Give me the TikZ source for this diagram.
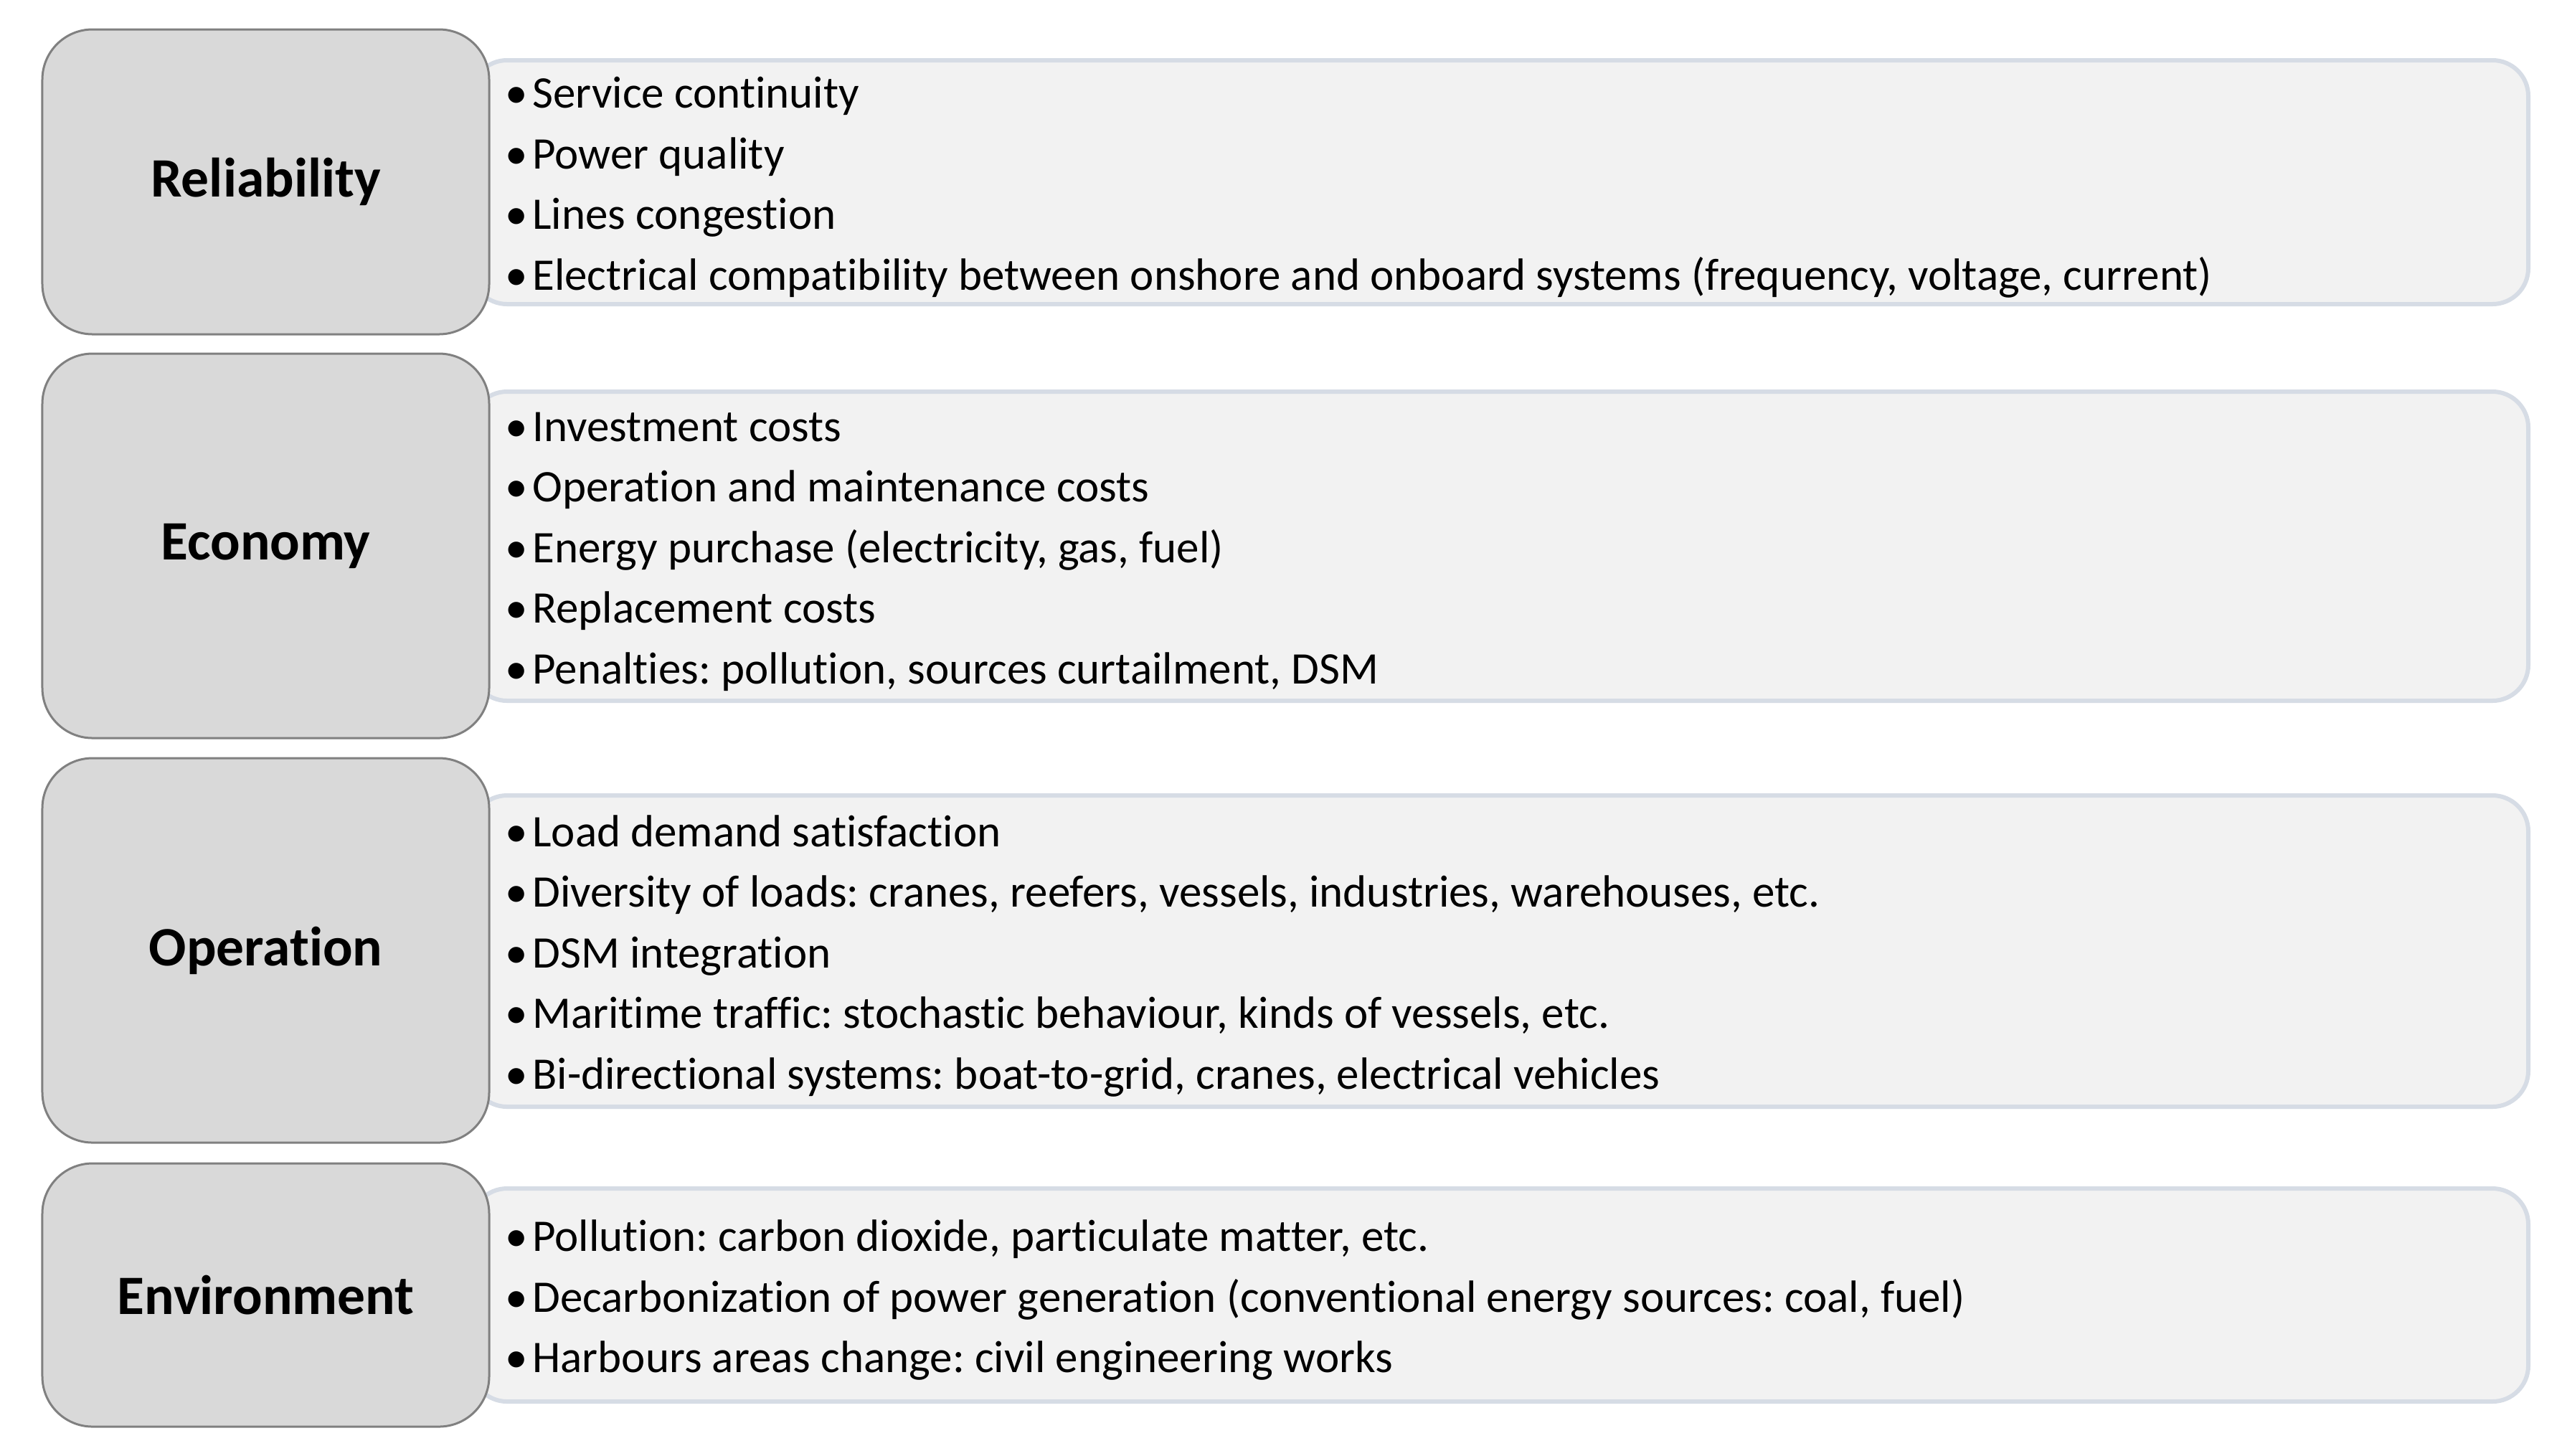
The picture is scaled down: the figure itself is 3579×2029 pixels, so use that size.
\documentclass[tikz,border=0pt]{standalone}
\usepackage{fontspec}
\setmainfont{Carlito}[Ligatures=NoCommon]
\usepackage{tikz}

\definecolor{catfill}{RGB}{217,217,217}
\definecolor{catline}{RGB}{128,128,128}
\definecolor{listfill}{RGB}{242,242,242}
\definecolor{listline}{RGB}{214,220,229}

\newcommand{\bul}{\textbullet\hspace{1.4pt}}
\frenchspacing

\tikzset{
	catbox/.style={draw=catline,line width=0.6pt,fill=catfill,rounded corners=14pt,minimum width=124.6pt,inner sep=0pt,font=\fontsize{15.5}{18}\selectfont\bfseries},
	listbox/.style={draw=listline,line width=1.2pt,fill=listfill,rounded corners=10pt,minimum width=573.6pt,inner sep=0pt,anchor=east},
	listtext/.style={anchor=west,align=left,inner sep=0pt,font=\fontsize{12.6}{16.9}\selectfont}
}

\begin{document}
\begin{tikzpicture}[x=0.2pt,y=-0.2pt]
		\useasboundingbox[fill=white] (0,0) rectangle (3579,2029);
		% light boxes behind
		\node[listbox,minimum height=68pt] (relbox) at (3528,254) {};
		\node[listbox,minimum height=86.2pt] (ecobox) at (3528,761.5) {};
		\node[listbox,minimum height=86.8pt] (opbox) at (3528,1326) {};
		\node[listbox,minimum height=59.4pt] (envbox) at (3528,1805.5) {};
		% categories
		\node[catbox,minimum height=85pt] (rel) at (370.5,253.5) {Reliability};
		\node[catbox,minimum height=107.2pt] (eco) at (370.5,761) {Economy};
		\node[catbox,minimum height=107.2pt] (op) at (370.5,1325) {Operation};
		\node[catbox,minimum height=73.4pt] (env) at (370.5,1805.5) {Environment};
		% items
		\node[listtext] (reltext) at (703,261) {\bul Service continuity\\
			\bul Power quality\\
			\bul Lines congestion\\
			\bul Electrical compatibility between onshore and onboard systems (frequency, voltage, current)};
		\node[listtext] (ecotext) at (703,769) {\bul Investment costs\\
			\bul Operation and maintenance costs\\
			\bul Energy purchase (electricity, gas, fuel)\\
			\bul Replacement costs\\
			\bul Penalties: pollution, sources curtailment, DSM};
		\node[listtext] (optext) at (703,1333) {\bul Load demand satisfaction\\
			\bul Diversity of loads: cranes, reefers, vessels, industries, warehouses, etc.\\
			\bul DSM integration\\
			\bul Maritime traffic: stochastic behaviour, kinds of vessels, etc.\\
			\bul Bi-directional systems: boat-to-grid, cranes, electrical vehicles};
		\node[listtext] (envtext) at (703,1812.5) {\bul Pollution: carbon dioxide, particulate matter, etc.\\
			\bul Decarbonization of power generation (conventional energy sources: coal, fuel)\\
			\bul Harbours areas change: civil engineering works};
	\end{tikzpicture}
\end{document}
